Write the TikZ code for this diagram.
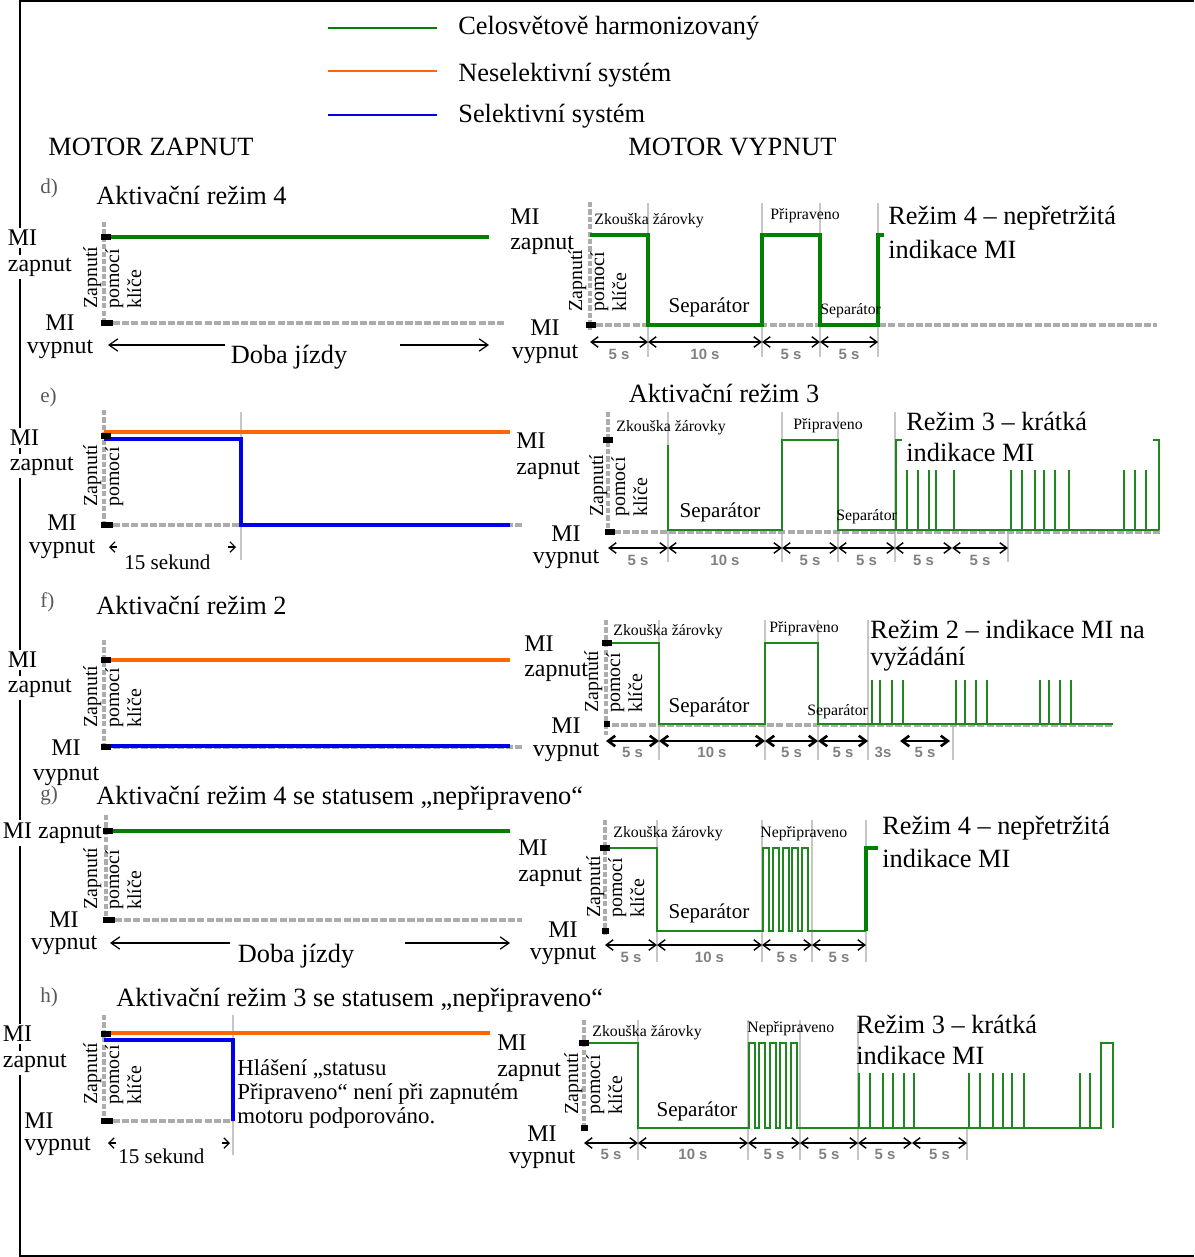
\documentclass[tikz,border=0pt]{standalone}
\usepackage{fontspec}
\setmainfont{Liberation Serif}
\setsansfont{Liberation Sans}
\usetikzlibrary{arrows.meta}

\definecolor{zelena}{RGB}{0,128,0}
\definecolor{zelenaT}{RGB}{30,135,30}
\definecolor{oranzova}{RGB}{255,102,0}
\definecolor{modra}{RGB}{0,0,235}

\begin{document}
\begin{tikzpicture}[x=0.02cm,y=-0.02cm,
    txt/.style={inner sep=0pt},
    velky/.style={txt,font=\fontsize{15}{17}\selectfont},
    mi/.style={txt,font=\fontsize{13.6}{16}\selectfont},
    mibg/.style={mi,fill=white,inner sep=1.5pt},
    maly/.style={txt,font=\fontsize{9}{10}\selectfont},
    sep/.style={txt,font=\fontsize{12}{14}\selectfont},
    hl/.style={txt,font=\fontsize{13}{13.6}\selectfont},
    klic/.style={txt,font=\fontsize{11.3}{12.5}\selectfont,rotate=90,anchor=north west,align=left},
    sek/.style={txt,font=\sffamily\bfseries\fontsize{8.5}{9}\selectfont,text=black!50},
    pism/.style={txt,font=\fontsize{12}{14}\selectfont,text=black!65},
    zap/.style={gray!65,line width=1.8pt,dash pattern=on 3pt off 1.2pt},
    zakl/.style={gray!65,line width=1.8pt,dash pattern=on 4pt off 1.2pt},
    del/.style={gray!45,line width=1.3pt},
    sig/.style={line width=2.2pt},
    sigT/.style={zelena,line width=2.8pt},
    sigt/.style={zelenaT,line width=1.1pt},
    kot/.style={line width=0.8pt,{Straight Barb[length=4pt,width=6pt]}-{Straight Barb[length=4pt,width=6pt]}},
    kotT/.style={kot,line width=1.5pt},
    sipka/.style={line width=0.7pt,-{Straight Barb[length=5pt,width=7pt]}},
    hrot/.style={line width=0.7pt,-{Straight Barb[length=3pt,width=6pt]}}
]

\useasboundingbox (0,0) rectangle (1194,1257);

% ramecek
\draw[line width=1.1pt] (1194,1) -- (20,1) -- (20,1256) -- (1194,1256);

% legenda
\draw[sig,zelena,line width=1.7pt] (328,28) -- (437,28);
\draw[sig,oranzova,line width=1.7pt] (328,71) -- (437,71);
\draw[sig,modra,line width=1.7pt] (328,115) -- (437,115);
\node[velky,anchor=west] (leg1) at (458,28) {Celosvětově harmonizovaný};
\node[velky,anchor=west] (leg2) at (458,75) {Neselektivní systém};
\node[velky,anchor=west] (leg3) at (458,116) {Selektivní systém};
\node[velky,anchor=west] (motZ) at (48,147) {MOTOR ZAPNUT};
\node[velky,anchor=west] (motV) at (628,147) {MOTOR VYPNUT};

% ---------- d) ----------
\node[pism,anchor=west] (dPis) at (40,188) {d)};
\node[velky,anchor=west] (dNad) at (96,195) {Aktivační režim 4};
\node[mibg,anchor=west] (dLmi) at (5,238) {MI};
\node[mibg,anchor=west] (dLzap) at (5,267) {zapnut};
\node[mi] (dLmi2) at (60,323) {MI};
\node[mi] (dLvyp) at (60,349) {vypnut};
\draw[zap] (104,222) -- (104,322);
\draw[zakl] (104,323) -- (505,323);
\draw[sig,zelena] (104,237) -- (489,237);
\fill (101,234) rectangle (111,240);
\fill (101,320) rectangle (113,326);
\node[klic] (dLkl) at (83,309) {Zapnutí\\pomocí\\klíče};
\node[velky] (dLdoba) at (289,357) {Doba jízdy};
\draw[sipka] (225,345) -- (108,345);
\draw[sipka] (400,345) -- (489,345);

% d) motor vypnut
\node[mi,anchor=west] (dRmi) at (510,217) {MI};
\node[mi,anchor=west] (dRzap) at (510,245) {zapnut};
\node[mi] (dRmi2) at (545,328) {MI};
\node[mi] (dRvyp) at (545,354) {vypnut};
\foreach \x in {648,762,820,878} \draw[del] (\x,203) -- (\x,357);
\draw[zap] (590,202) -- (590,330);
\draw[zakl] (596,325) -- (1157,325);
\draw[sigT] (590,235) -- (648,235) -- (648,325) -- (762,325) -- (762,235) -- (820,235)
    -- (820,325) -- (878,325) -- (878,235) -- (884,235);
\fill (586,322) rectangle (596,328);
\node[klic] (dRkl) at (568,312) {Zapnutí\\pomocí\\klíče};
\node[maly,anchor=west] (dRzk) at (594,221) {Zkouška žárovky};
\node[maly,anchor=west] (dRpr) at (770,216) {Připraveno};
\node[sep] (dRsep) at (709,307) {Separátor};
\node[maly,anchor=west] (dRsep2) at (820,311) {Separátor};
\node[velky,anchor=west] (dRrez) at (888,218) {Režim 4 – nepřetržitá};
\node[velky,anchor=west] (dRind) at (888,249) {indikace MI};
\foreach \a/\b/\t in {590/648/5 s,648/762/10 s,762/820/5 s,820/878/5 s}{
    \draw[kot] (\a,342) -- (\b,342);
    \node[sek] (dRk\a) at ({(\a+\b)/2},354) {\t};
}

% ---------- e) ----------
\node[pism,anchor=west] (ePis) at (40,397) {e)};
\node[mibg,anchor=west] (eLmi) at (7,438) {MI};
\node[mibg,anchor=west] (eLzap) at (7,466) {zapnut};
\node[mi] (eLmi2) at (62,523) {MI};
\node[mi] (eLvyp) at (62,549) {vypnut};
\draw[del] (241,412) -- (241,560);
\draw[zap] (104,410) -- (104,525);
\draw[zakl] (104,525) -- (522,525);
\draw[sig,oranzova] (104,432) -- (510,432);
\draw[sig,modra] (104,439) -- (241,439) -- (241,525) -- (510,525);
\fill (101,433) rectangle (111,439);
\fill (101,522) rectangle (113,528);
\node[klic] (eLkl) at (83,507) {Zapnutí\\pomocí};
\node[sep,anchor=west] (eLsek) at (124,562) {15 sekund};
\draw[hrot] (117,547) -- (109,547);
\draw[hrot] (228,547) -- (236,547);

% e) motor vypnut
\node[velky] (eNad) at (724,393) {Aktivační režim 3};
\node[mi,anchor=west] (eRmi) at (516,441) {MI};
\node[mi,anchor=west] (eRzap) at (516,470) {zapnut};
\node[mi] (eRmi2) at (566,534) {MI};
\node[mi] (eRvyp) at (566,559) {vypnut};
\foreach \x in {668,782,838,895} \draw[del] (\x,412) -- (\x,562);
\draw[del] (1008,530) -- (1008,562);
\draw[zap] (608,412) -- (608,535);
\draw[zakl] (614,532) -- (1162,532);
\draw[sigt] (668,445) -- (668,530) -- (782,530) -- (782,440) -- (838,440) -- (838,530) -- (1159,530);
\draw[sigt] (902,440) -- (896,440) -- (896,530);
\draw[sigt] (1153,440) -- (1159,440) -- (1159,530);
\foreach \x in {907,918,929,936,954,1011,1022,1035,1044,1055,1069,1124,1135,1146}
    \draw[sigt] (\x,470) -- (\x,530);
\fill (603,437) rectangle (613,443);
\fill (605,529) rectangle (615,535);
\node[klic] (eRkl) at (589,517) {Zapnutí\\pomocí\\klíče};
\node[maly,anchor=west] (eRzk) at (616,428) {Zkouška žárovky};
\node[maly,anchor=west] (eRpr) at (793,426) {Připraveno};
\node[sep] (eRsep) at (720,512) {Separátor};
\node[maly,anchor=west] (eRsep2) at (836,517) {Separátor};
\node[velky,anchor=west] (eRrez) at (906,421) {Režim 3 – krátká};
\node[velky,anchor=west] (eRind) at (906,452) {indikace MI};
\foreach \a/\b/\t in {608/668/5 s,668/782/10 s,782/838/5 s,838/895/5 s,895/952/5 s,952/1008/5 s}{
    \draw[kot] (\a,548) -- (\b,548);
    \node[sek] (eRk\a) at ({(\a+\b)/2},560) {\t};
}

% ---------- f) ----------
\node[pism,anchor=west] (fPis) at (40,602) {f)};
\node[velky,anchor=west] (fNad) at (96,605) {Aktivační režim 2};
\node[mibg,anchor=west] (fLmi) at (5,660) {MI};
\node[mibg,anchor=west] (fLzap) at (5,688) {zapnut};
\node[mi] (fLmi2) at (66,748) {MI};
\node[mi] (fLvyp) at (66,776) {vypnut};
\draw[zap] (104,640) -- (104,750);
\draw[zakl] (104,747) -- (522,747);
\draw[sig,oranzova] (104,660) -- (510,660);
\draw[sig,modra] (104,746) -- (510,746);
\fill (101,657) rectangle (111,663);
\fill (101,744) rectangle (111,750);
\node[klic] (fLkl) at (83,728) {Zapnutí\\pomocí\\klíče};

% f) motor vypnut
\node[mi,anchor=west] (fRmi) at (524,644) {MI};
\node[mi,anchor=west] (fRzap) at (524,672) {zapnut};
\node[mi] (fRmi2) at (566,726) {MI};
\node[mi] (fRvyp) at (566,752) {vypnut};
\foreach \x in {659,765,818,868} \draw[del] (\x,620) -- (\x,760);
\draw[del] (953,724) -- (953,760);
\draw[zap] (606,620) -- (606,735);
\draw[zakl] (612,725) -- (1113,725);
\draw[sigt] (606,643) -- (659,643) -- (659,724) -- (765,724) -- (765,643) -- (818,643)
    -- (818,724) -- (1113,724);
\foreach \x in {872,880,892,903,956,965,976,987,1040,1049,1060,1071}
    \draw[sigt] (\x,680) -- (\x,724);
\fill (602,640) rectangle (612,646);
\fill (604,721) rectangle (610,727);
\node[klic] (fRkl) at (584,713) {Zapnutí\\pomocí\\klíče};
\node[maly,anchor=west] (fRzk) at (613,632) {Zkouška žárovky};
\node[maly,anchor=west] (fRpr) at (769,629) {Připraveno};
\node[sep] (fRsep) at (709,707) {Separátor};
\node[maly,anchor=west] (fRsep2) at (807,712) {Separátor};
\node[velky,anchor=west] (fRrez) at (870,629) {Režim 2 – indikace MI na};
\node[velky,anchor=west] (fRvyz) at (870,659) {vyžádání};
\foreach \a/\b/\t in {606/659/5 s,659/765/10 s,765/818/5 s,818/868/5 s,900/950/5 s}{
    \draw[kotT] (\a,741) -- (\b,741);
    \node[sek] (fRk\a) at ({(\a+\b)/2},752) {\t};
}
\node[sek] (fR3s) at (883,752) {3s};

% ---------- g) ----------
\node[pism,anchor=west] (gPis) at (40,795) {g)};
\node[velky,anchor=west] (gNad) at (96,798) {Aktivační režim 4 se statusem „nepřipraveno“};
\node[mibg,anchor=west] (gLmi) at (0,833) {MI zapnut};
\node[mi] (gLmi2) at (64,920) {MI};
\node[mi] (gLvyp) at (64,945) {vypnut};
\draw[zap] (106,815) -- (106,920);
\draw[zakl] (106,920) -- (522,920);
\draw[sig,zelena] (106,831) -- (510,831);
\fill (103,828) rectangle (113,834);
\fill (103,917) rectangle (115,923);
\node[klic] (gLkl) at (83,910) {Zapnutí\\pomocí\\klíče};
\node[velky] (gLdoba) at (296,956) {Doba jízdy};
\draw[sipka] (230,943) -- (110,943);
\draw[sipka] (405,943) -- (510,943);

% g) motor vypnut
\node[mi,anchor=west] (gRmi) at (518,848) {MI};
\node[mi,anchor=west] (gRzap) at (518,877) {zapnut};
\node[mi] (gRmi2) at (563,930) {MI};
\node[mi] (gRvyp) at (563,955) {vypnut};
\foreach \x in {657,762,812,866} \draw[del] (\x,820) -- (\x,962);
\draw[zap] (605,820) -- (605,935);
\draw[sigt] (605,848) -- (657,848) -- (657,931) -- (762,931)
    \foreach \i in {0,...,4}{ -- ({763+9.8*\i},931) -- ({763+9.8*\i},848)
    -- ({769+9.8*\i},848) -- ({769+9.8*\i},931)} -- (866,931);
\draw[sigT] (866,931) -- (866,848) -- (878,848);
\fill (600,845) rectangle (610,851);
\fill (602,928) rectangle (609,934);
\node[klic] (gRkl) at (586,918) {Zapnutí\\pomocí\\klíče};
\node[maly,anchor=west] (gRzk) at (613,834) {Zkouška žárovky};
\node[maly,anchor=west] (gRnp) at (760,834) {Nepřipraveno};
\node[sep] (gRsep) at (709,913) {Separátor};
\node[velky,anchor=west] (gRrez) at (882,828) {Režim 4 – nepřetržitá};
\node[velky,anchor=west] (gRind) at (882,858) {indikace MI};
\foreach \a/\b/\t in {605/657/5 s,657/762/10 s,762/812/5 s,812/866/5 s}{
    \draw[kot] (\a,945) -- (\b,945);
    \node[sek] (gRk\a) at ({(\a+\b)/2},957) {\t};
}

% ---------- h) ----------
\node[pism,anchor=west] (hPis) at (40,997) {h)};
\node[velky,anchor=west] (hNad) at (116,1000) {Aktivační režim 3 se statusem „nepřipraveno“};
\node[mibg,anchor=west] (hLmi) at (0,1034) {MI};
\node[mibg,anchor=west] (hLzap) at (0,1063) {zapnut};
\node[mi,anchor=west] (hLmi2) at (24,1121) {MI};
\node[mi,anchor=west] (hLvyp) at (24,1146) {vypnut};
\draw[del] (233,1015) -- (233,1155);
\draw[zap] (104,1015) -- (104,1121);
\draw[zakl] (104,1121) -- (233,1121);
\draw[sig,oranzova] (104,1033) -- (490,1033);
\draw[sig,modra] (104,1040) -- (233,1040) -- (233,1121);
\fill (101,1031) rectangle (111,1037);
\fill (101,1118) rectangle (113,1124);
\node[klic] (hLkl) at (83,1105) {Zapnutí\\pomocí\\klíče};
\node[sep,anchor=west] (hLsek) at (118,1156) {15 sekund};
\draw[hrot] (116,1143) -- (108,1143);
\draw[hrot] (222,1143) -- (230,1143);
\node[hl,align=left,anchor=west] (hLhl) at (237,1094)
    {Hlášení „statusu\\Připraveno“ není při zapnutém\\motoru podporováno.};

% h) motor vypnut
\node[mi,anchor=west] (hRmi) at (497,1043) {MI};
\node[mi,anchor=west] (hRzap) at (497,1072) {zapnut};
\node[mi] (hRmi2) at (542,1134) {MI};
\node[mi] (hRvyp) at (542,1159) {vypnut};
\foreach \x in {638,748,800,858} \draw[del] (\x,1020) -- (\x,1160);
\draw[del] (967,1128) -- (967,1160);
\draw[zap] (584,1020) -- (584,1130);
\draw[sigt] (584,1043) -- (638,1043) -- (638,1128) -- (748,1128)
    \foreach \i in {0,...,4}{ -- ({749+10.4*\i},1128) -- ({749+10.4*\i},1043)
    -- ({755+10.4*\i},1043) -- ({755+10.4*\i},1128)} -- (1101,1128)
    -- (1101,1043) -- (1113,1043) -- (1113,1128);
\foreach \x in {859,870,883,893,904,914,969,980,993,1003,1012,1024,1080,1090}
    \draw[sigt] (\x,1073) -- (\x,1128);
\fill (579,1040) rectangle (589,1046);
\fill (581,1125) rectangle (588,1131);
\node[klic] (hRkl) at (564,1115) {Zapnutí\\pomocí\\klíče};
\node[maly,anchor=west] (hRzk) at (592,1033) {Zkouška žárovky};
\node[maly,anchor=west] (hRnp) at (747,1029) {Nepřipraveno};
\node[sep] (hRsep) at (697,1111) {Separátor};
\node[velky,anchor=west] (hRrez) at (856,1024) {Režim 3 – krátká};
\node[velky,anchor=west] (hRind) at (856,1055) {indikace MI};
\foreach \a/\b/\t in {584/638/5 s,638/748/10 s,748/800/5 s,800/858/5 s,858/912/5 s,912/967/5 s}{
    \draw[kot] (\a,1143) -- (\b,1143);
    \node[sek] (hRk\a) at ({(\a+\b)/2},1154) {\t};
}

\end{tikzpicture}
\end{document}
